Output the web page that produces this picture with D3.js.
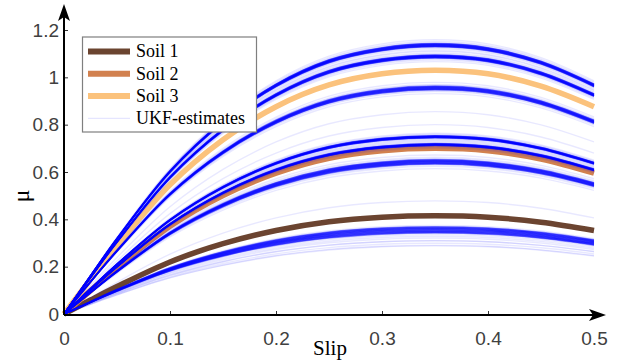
<!DOCTYPE html>
<html>
<head>
<meta charset="utf-8">
<script src="https://cdn.jsdelivr.net/npm/d3@7"></script>
<style>
  body { margin: 0; background: #fff; }
  svg { display: block; }
</style>
</head>
<body>
<svg id="chart" width="622" height="360"></svg>
<script>
const slip = [0, 0.025, 0.05, 0.1, 0.15, 0.2, 0.25, 0.3, 0.35, 0.4, 0.45, 0.5];

// reference friction curves
const soil1 = [0, 0.059, 0.116, 0.220, 0.297, 0.353, 0.390, 0.409, 0.415, 0.409, 0.388, 0.353];
const soil2 = [0, 0.099, 0.196, 0.371, 0.501, 0.595, 0.658, 0.690, 0.700, 0.690, 0.655, 0.595];
const soil3 = [0, 0.146, 0.288, 0.546, 0.736, 0.876, 0.968, 1.015, 1.030, 1.015, 0.963, 0.876];

// centre lines of the UKF estimate bundles
const ukfA = [0, 0.161, 0.318, 0.602, 0.812, 0.966, 1.068, 1.119, 1.136, 1.119, 1.062, 0.966];
const ukfB = [0, 0.154, 0.305, 0.577, 0.778, 0.925, 1.023, 1.072, 1.088, 1.072, 1.017, 0.925];
const ukfC = [0, 0.136, 0.267, 0.506, 0.683, 0.812, 0.898, 0.941, 0.955, 0.941, 0.893, 0.812];
const ukfD = [0, 0.106, 0.210, 0.397, 0.536, 0.637, 0.704, 0.738, 0.749, 0.738, 0.700, 0.637];
const ukfD2 = [0, 0.102, 0.200, 0.379, 0.512, 0.609, 0.673, 0.705, 0.716, 0.705, 0.669, 0.609];
const ukfE = [0, 0.091, 0.180, 0.341, 0.460, 0.547, 0.604, 0.633, 0.643, 0.633, 0.601, 0.547];
const ukfF = [0, 0.051, 0.101, 0.191, 0.257, 0.306, 0.338, 0.355, 0.360, 0.355, 0.337, 0.306];

// single stray estimates
const stray1 = [0, 0.121, 0.239, 0.453, 0.611, 0.727, 0.804, 0.842, 0.855, 0.842, 0.799, 0.727];
const stray2 = [0, 0.114, 0.224, 0.424, 0.572, 0.680, 0.752, 0.788, 0.800, 0.788, 0.748, 0.680];
const stray3 = [0, 0.068, 0.134, 0.253, 0.342, 0.406, 0.449, 0.471, 0.478, 0.471, 0.447, 0.406];
const stray4 = [0, 0.044, 0.087, 0.164, 0.222, 0.264, 0.291, 0.305, 0.310, 0.305, 0.290, 0.264];
const stray5 = [0, 0.041, 0.081, 0.154, 0.207, 0.247, 0.273, 0.286, 0.290, 0.286, 0.271, 0.247];

// relative spread of the estimates inside each bundle (dense core, faint halo)
const coreTight = [-0.006, -0.005, -0.004, -0.003, -0.002, -0.001, 0, 0.001, 0.002, 0.003, 0.004, 0.005, 0.006];
const haloTight = [-0.02, -0.014, -0.01, 0.01, 0.014, 0.02];
const coreMid = [-0.008, -0.0065, -0.005, -0.0035, -0.002, -0.0005, 0.001, 0.0025, 0.004, 0.0055, 0.007, 0.0085];
const haloMid = [-0.025, -0.016, -0.012, 0.012, 0.016, 0.025];
const coreWide = [-0.015, -0.0125, -0.01, -0.0075, -0.005, -0.0025, 0, 0.0025, 0.005, 0.0075, 0.01, 0.0125, 0.015];
const haloWide = [-0.045, -0.03, -0.022, 0.022, 0.03, 0.045];
const coreLow = [-0.05, -0.045, -0.04, -0.035, -0.03, -0.025, -0.02, -0.015, -0.01, -0.005, 0, 0.005, 0.01, 0.015, 0.02, 0.025];
const haloLow = [-0.2, -0.17, -0.14, -0.11, -0.09, -0.07, 0.04];

const xTicks = [0, 0.1, 0.2, 0.3, 0.4, 0.5];
const yTicks = [0, 0.2, 0.4, 0.6, 0.8, 1, 1.2];
const legendLabels = ['Soil 1', 'Soil 2', 'Soil 3', 'UKF-estimates'];

const soilColors = ['#6b4430', '#d2814f', '#fbc27c'];
const blue = '#0000ff';

const svg = d3.select('#chart');

const x = d3.scaleLinear().domain([0, 0.5]).range([64, 594]);
const y = d3.scaleLinear().domain([0, 1.2]).range([314, 30]);

const line = d3.line()
    .x((d, i) => x(slip[i]))
    .y(d => y(d))
    .curve(d3.curveCatmullRom.alpha(0.5));

// soil curves
const plot = svg.append('g');
[soil1, soil2, soil3].forEach((s, i) => {
    plot.append('path')
        .attr('d', line(s))
        .attr('fill', 'none')
        .attr('stroke', soilColors[i])
        .attr('stroke-width', 5.5);
});

function estimate(values, k, opacity) {
    plot.append('path')
        .attr('d', line(values.map(v => v * (1 + k))))
        .attr('fill', 'none')
        .attr('stroke', blue)
        .attr('stroke-opacity', opacity)
        .attr('stroke-width', 1.4);
}

// UKF bundles drawn on top
const bundles = [
    {c: ukfA, core: coreTight, halo: haloTight},
    {c: ukfB, core: coreTight, halo: haloTight},
    {c: ukfC, core: coreMid, halo: haloMid},
    {c: ukfD, core: coreTight, halo: haloTight},
    {c: ukfD2, core: coreTight, halo: haloTight},
    {c: ukfE, core: coreWide, halo: haloWide},
    {c: ukfF, core: coreLow, halo: haloLow}
];
bundles.forEach(b => {
    b.halo.forEach(k => estimate(b.c, k, 0.09));
    b.core.forEach(k => estimate(b.c, k, 0.42));
});
[stray1, stray2, stray3, stray4, stray5].forEach(s => estimate(s, 0, 0.09));

// axes
const fmt = d => String(+d.toFixed(1));
const xAxis = svg.append('g')
    .attr('transform', 'translate(0,315)')
    .call(d3.axisBottom(x).tickValues(xTicks).tickFormat(fmt).tickSizeInner(-4).tickSizeOuter(0).tickPadding(17));
const yAxis = svg.append('g')
    .attr('transform', 'translate(64,0)')
    .call(d3.axisLeft(y).tickValues(yTicks).tickFormat(fmt).tickSizeInner(-4).tickSizeOuter(0).tickPadding(5));

[xAxis, yAxis].forEach(a => {
    a.select('.domain').remove();
    a.selectAll('.tick line').attr('stroke', '#333').attr('stroke-width', 1);
    a.selectAll('.tick text')
        .attr('fill', '#404040')
        .style('font-family', '"Liberation Sans", Arial, sans-serif')
        .style('font-size', '19px');
});

svg.append('line')
    .attr('x1', 64).attr('y1', 315).attr('x2', 598).attr('y2', 315)
    .attr('stroke', '#000').attr('stroke-width', 2);
svg.append('line')
    .attr('x1', 64).attr('y1', 315).attr('x2', 64).attr('y2', 12)
    .attr('stroke', '#000').attr('stroke-width', 2);
svg.append('path')
    .attr('d', 'M606,315 L589,309 L593,315 L589,321 Z')
    .attr('fill', '#000');
svg.append('path')
    .attr('d', 'M64,4 L58,21 L64,17 L70,21 Z')
    .attr('fill', '#000');

svg.append('text')
    .attr('x', 330).attr('y', 355)
    .attr('text-anchor', 'middle')
    .style('font-family', '"Liberation Serif", "Times New Roman", serif')
    .style('font-size', '21px')
    .text('Slip');
svg.append('text')
    .attr('transform', 'translate(29,196) rotate(-90)')
    .attr('text-anchor', 'middle')
    .style('font-family', '"Liberation Serif", "Times New Roman", serif')
    .style('font-size', '24px')
    .text('μ');

// legend
const legend = svg.append('g');
legend.append('rect')
    .attr('x', 82.5).attr('y', 37).attr('width', 174).attr('height', 95)
    .attr('fill', '#fff').attr('stroke', '#7f7f7f').attr('stroke-width', 1.2);
legendLabels.forEach((lab, i) => {
    const ly = 51.5 + i * 22.3;
    legend.append('line')
        .attr('x1', 88).attr('x2', 130).attr('y1', ly).attr('y2', ly)
        .attr('stroke', i < 3 ? soilColors[i] : blue)
        .attr('stroke-opacity', i < 3 ? 1 : 0.1)
        .attr('stroke-width', i < 3 ? 6 : 1.3);
    legend.append('text')
        .attr('x', 136).attr('y', ly)
        .attr('dy', '0.33em')
        .style('font-family', '"Liberation Serif", "Times New Roman", serif')
        .style('font-size', '18px')
        .text(lab);
});
</script>
</body>
</html>
